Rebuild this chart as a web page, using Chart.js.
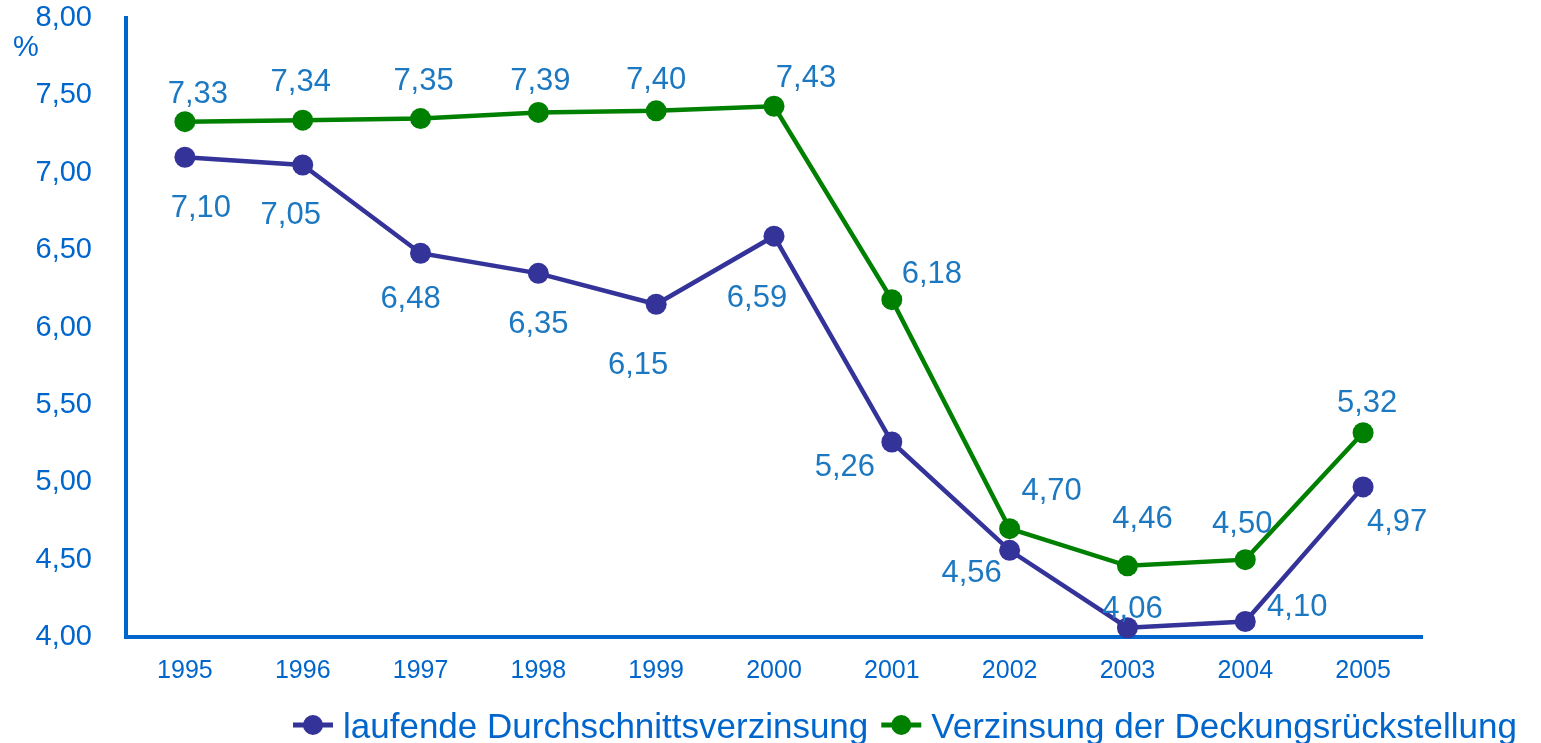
<!DOCTYPE html>
<html>
<head>
<meta charset="utf-8">
<script src="https://cdn.jsdelivr.net/npm/chart.js@4.4.1/dist/chart.umd.min.js"></script>
<style>
    body { margin: 0; background: #fff; }
    #wrap { width: 1541px; height: 743px; position: relative; }
</style>
</head>
<body>
<div id="wrap"><canvas id="chart"></canvas></div>
<script>
// Daten
const years = ['1995', '1996', '1997', '1998', '1999', '2000', '2001', '2002', '2003', '2004', '2005'];
const laufende = [7.10, 7.05, 6.48, 6.35, 6.15, 6.59, 5.26, 4.56, 4.06, 4.10, 4.97];
const deckung = [7.33, 7.34, 7.35, 7.39, 7.40, 7.43, 6.18, 4.70, 4.46, 4.50, 5.32];
const seriesNames = ['laufende Durchschnittsverzinsung', 'Verzinsung der Deckungsrückstellung'];
const yTicks = [4.0, 4.5, 5.0, 5.5, 6.0, 6.5, 7.0, 7.5, 8.0];

const FONT = "'Liberation Sans', Arial, sans-serif";
const AXIS_BLUE = '#0066CC';
const LABEL_BLUE = '#1C78C0';
const PURPLE = '#333399';
const GREEN = '#008000';

const fmt = v => v.toFixed(2).replace('.', ',');

// Beschriftung der Datenpunkte (Versatz je Punkt in Pixel)
const pointLabelsPlugin = {
    id: 'pointLabels',
    afterDatasetsDraw(chart, args, opts) {
        const ctx = chart.ctx;
        ctx.save();
        ctx.font = opts.font;
        ctx.fillStyle = opts.color;
        ctx.textAlign = 'center';
        ctx.textBaseline = 'middle';
        chart.data.datasets.forEach((ds, i) => {
            const meta = chart.getDatasetMeta(i);
            const offs = opts.offsets[i];
            meta.data.forEach((pt, j) => {
                const o = offs[j];
                ctx.fillText(fmt(ds.data[j]), pt.x + o[0], pt.y + o[1]);
            });
        });
        ctx.restore();
    }
};

// Legende unten mit Linie + Punkt
const lineLegendPlugin = {
    id: 'lineLegend',
    afterDraw(chart, args, opts) {
        const ctx = chart.ctx;
        ctx.save();
        ctx.font = opts.font;
        ctx.textBaseline = 'alphabetic';
        let x = opts.x;
        const y = opts.y;
        chart.data.datasets.forEach(ds => {
            ctx.strokeStyle = ds.borderColor;
            ctx.lineWidth = 5;
            ctx.beginPath();
            ctx.moveTo(x, y);
            ctx.lineTo(x + 40, y);
            ctx.stroke();
            ctx.fillStyle = ds.borderColor;
            ctx.beginPath();
            ctx.arc(x + 20, y, 10, 0, Math.PI * 2);
            ctx.fill();
            ctx.fillStyle = opts.color;
            ctx.fillText(ds.label, x + 50, y + 13);
            x += 50 + ctx.measureText(ds.label).width + 13;
        });
        ctx.restore();
    }
};

// Achsentitel "%"
const unitPlugin = {
    id: 'unitLabel',
    afterDraw(chart) {
        const ctx = chart.ctx;
        ctx.save();
        ctx.font = '29px ' + FONT;
        ctx.fillStyle = AXIS_BLUE;
        ctx.textAlign = 'center';
        ctx.textBaseline = 'middle';
        ctx.fillText('%', 26, 48);
        ctx.restore();
    }
};

new Chart(document.getElementById('chart'), {
    type: 'line',
    data: {
        labels: years,
        datasets: [{
            label: seriesNames[0],
            data: laufende,
            borderColor: PURPLE,
            backgroundColor: PURPLE,
            borderWidth: 4.5,
            pointRadius: 10.5,
            pointHoverRadius: 10.5,
            pointBackgroundColor: PURPLE,
            pointBorderWidth: 0,
            tension: 0,
            clip: false
        }, {
            label: seriesNames[1],
            data: deckung,
            borderColor: GREEN,
            backgroundColor: GREEN,
            borderWidth: 4.5,
            pointRadius: 10.5,
            pointHoverRadius: 10.5,
            pointBackgroundColor: GREEN,
            pointBorderWidth: 0,
            tension: 0,
            clip: false
        }]
    },
    options: {
        responsive: true,
        maintainAspectRatio: false,
        animation: false,
        layout: { padding: { top: 18, right: 119, bottom: 0, left: 0 } },
        plugins: {
            legend: { display: false },
            tooltip: { enabled: false },
            pointLabels: {
                font: '31px ' + FONT,
                color: LABEL_BLUE,
                offsets: [
                    [[16, 51], [-12, 50], [-10, 46], [0, 51], [-18, 61], [-17, 62], [-47, 25], [-38, 23], [5, -18], [52, -14], [34, 36]],
                    [[13, -27], [-2, -38], [3, -37], [2, -31], [0, -30], [32, -28], [40, -25], [42, -37], [15, -46], [-3, -35], [4, -29]]
                ]
            },
            lineLegend: { font: '35px ' + FONT, color: AXIS_BLUE, x: 293, y: 725 }
        },
        scales: {
            x: {
                offset: true,
                grid: { display: false, drawTicks: false },
                border: { display: true, color: AXIS_BLUE, width: 4 },
                ticks: { color: AXIS_BLUE, font: { family: FONT, size: 25 }, padding: 19 },
                afterFit: s => { s.height = 106; s.paddingLeft = 0; s.paddingRight = 0; }
            },
            y: {
                min: 4,
                max: 8,
                afterBuildTicks: s => { s.ticks = yTicks.map(v => ({ value: v })); },
                grid: { display: false, drawTicks: false },
                border: { display: true, color: AXIS_BLUE, width: 4 },
                ticks: {
                    color: AXIS_BLUE,
                    font: { family: FONT, size: 29 },
                    padding: 34,
                    callback: v => fmt(v)
                },
                afterFit: s => { s.width = 126; s.paddingTop = 0; s.paddingBottom = 0; }
            }
        }
    },
    plugins: [pointLabelsPlugin, lineLegendPlugin, unitPlugin]
});
</script>
</body>
</html>
